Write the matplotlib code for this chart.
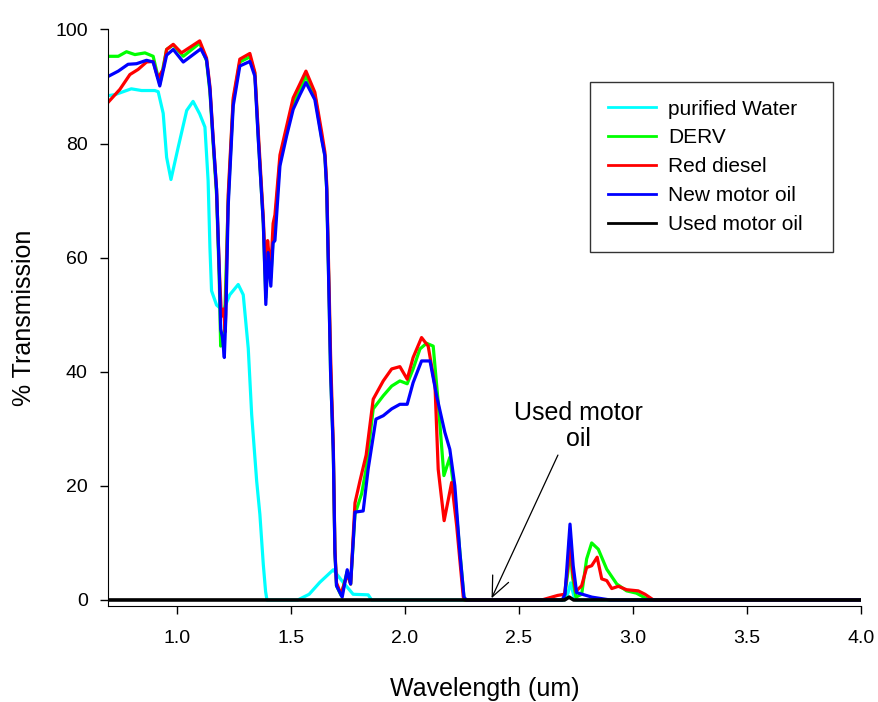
import numpy as np
import matplotlib
matplotlib.use("Agg")
import matplotlib.pyplot as plt

plt.rcParams['font.family'] = ['Liberation Sans', 'DejaVu Sans']

# purified water
water_x = [0.70, 0.73, 0.80, 0.845, 0.903, 0.918, 0.94, 0.955, 0.974, 1.006, 1.043, 1.071,
           1.10, 1.123, 1.137, 1.145, 1.152, 1.174, 1.203, 1.232, 1.269, 1.291, 1.313,
           1.328, 1.35, 1.364, 1.379, 1.389, 1.395, 1.53, 1.58, 1.627, 1.686, 1.729,
           1.773, 1.839, 1.854, 2.70, 2.715, 2.727, 2.74, 2.75, 4.0]
water_y = [88.4, 88.6, 89.6, 89.3, 89.3, 89.1, 85.3, 77.6, 73.7, 79.4, 85.8, 87.4,
           85.2, 82.9, 73.5, 61.7, 54.2, 51.7, 50.7, 53.5, 55.3, 53.5, 44.1,
           32.5, 20.8, 15.0, 6.2, 1.5, 0.0, 0.0, 1.0, 3.1, 5.3, 3.1,
           1.0, 0.9, 0.0, 0.0, 1.2, 3.0, 0.8, 0.0, 0.0]

# DERV
derv_x = [0.70, 0.743, 0.779, 0.816, 0.86, 0.896, 0.925, 0.955, 0.984, 1.028, 1.10,
          1.13, 1.145, 1.159, 1.174, 1.186, 1.192, 1.20, 1.208, 1.225, 1.247, 1.276,
          1.32, 1.342, 1.357, 1.379, 1.39, 1.40, 1.412, 1.422, 1.43, 1.452, 1.481,
          1.51, 1.54, 1.566, 1.605, 1.635, 1.649, 1.657, 1.668, 1.674, 1.686, 1.693,
          1.70, 1.72, 1.747, 1.762, 1.781, 1.81, 1.83, 1.861, 1.905, 1.942, 1.978,
          2.01, 2.036, 2.066, 2.095, 2.124, 2.146, 2.171, 2.197, 2.219, 2.26, 2.69,
          2.70, 2.715, 2.724, 2.735, 2.75, 2.775, 2.797, 2.819, 2.848, 2.885, 2.929,
          2.972, 3.015, 3.07, 4.0]
derv_y = [95.3, 95.3, 96.1, 95.6, 95.9, 95.3, 90.4, 96.5, 97.3, 95.3, 97.6,
          94.5, 89.0, 80.0, 71.0, 56.0, 44.5, 46.0, 47.0, 70.0, 87.5, 94.3,
          95.2, 92.3, 81.0, 66.0, 53.0, 61.5, 56.5, 63.5, 66.0, 77.0, 82.0,
          87.0, 89.5, 91.8, 88.5, 81.0, 78.0, 72.0, 52.0, 40.0, 26.0, 8.5,
          2.5, 0.8, 5.0, 2.8, 15.0, 18.6, 23.0, 33.5, 35.8, 37.5, 38.4,
          37.9, 40.5, 44.0, 45.0, 44.5, 34.6, 21.8, 25.0, 18.3, 0.0, 0.0,
          0.5, 5.0, 10.0, 4.0, 0.5, 1.0, 7.2, 10.0, 8.9, 5.4, 2.8,
          1.6, 1.2, 0.0, 0.0]

# Red diesel
red_x = [0.70, 0.75, 0.794, 0.83, 0.867, 0.896, 0.917, 0.94, 0.955, 0.984, 1.02, 1.10,
         1.13, 1.145, 1.159, 1.174, 1.186, 1.195, 1.20, 1.205, 1.212, 1.225, 1.247,
         1.276, 1.32, 1.342, 1.357, 1.379, 1.39, 1.398, 1.405, 1.412, 1.422, 1.43,
         1.452, 1.481, 1.51, 1.54, 1.566, 1.605, 1.635, 1.649, 1.657, 1.668, 1.674,
         1.686, 1.693, 1.70, 1.72, 1.747, 1.762, 1.781, 1.803, 1.83, 1.861, 1.905,
         1.942, 1.978, 2.01, 2.036, 2.073, 2.102, 2.132, 2.146, 2.172, 2.205, 2.227,
         2.256, 2.265, 2.60, 2.67, 2.70, 2.715, 2.724, 2.735, 2.75, 2.775, 2.797,
         2.819, 2.843, 2.863, 2.885, 2.907, 2.936, 2.972, 3.023, 3.053, 3.09, 4.0]
red_y = [87.3, 89.5, 92.1, 93.0, 94.3, 94.4, 91.5, 93.0, 96.5, 97.4, 95.9, 98.0,
         95.0, 90.0, 81.0, 72.0, 58.0, 50.0, 49.8, 51.0, 47.0, 71.0, 88.0,
         94.8, 95.8, 92.5, 82.0, 67.0, 56.0, 63.0, 60.0, 58.0, 66.0, 67.5,
         78.0, 83.0, 88.0, 90.5, 92.7, 89.0, 82.0, 78.5, 73.0, 54.0, 43.0,
         27.0, 9.0, 3.0, 1.0, 4.5, 2.8, 17.0, 20.9, 25.4, 35.2, 38.4,
         40.5, 40.9, 38.7, 42.5, 46.0, 44.5, 37.5, 22.9, 13.9, 20.6, 13.0,
         0.5, 0.0, 0.0, 0.8, 1.0, 6.0, 12.0, 5.0, 1.5, 2.5, 5.7,
         6.0, 7.5, 3.7, 3.4, 2.0, 2.4, 1.8, 1.6, 1.0, 0.0, 0.0]

# New motor oil
new_x = [0.70, 0.743, 0.786, 0.823, 0.867, 0.896, 0.925, 0.955, 0.984, 1.028, 1.105,
         1.13, 1.145, 1.159, 1.174, 1.186, 1.192, 1.20, 1.208, 1.215, 1.225, 1.247,
         1.276, 1.32, 1.342, 1.357, 1.379, 1.39, 1.40, 1.412, 1.422, 1.43, 1.452,
         1.481, 1.51, 1.54, 1.566, 1.605, 1.635, 1.649, 1.657, 1.668, 1.674, 1.686,
         1.693, 1.70, 1.725, 1.747, 1.762, 1.781, 1.817, 1.839, 1.873, 1.905, 1.942,
         1.978, 2.01, 2.036, 2.073, 2.11, 2.139, 2.175, 2.197, 2.219, 2.241, 2.259,
         2.27, 2.69, 2.702, 2.724, 2.738, 2.753, 2.82, 2.90, 4.0]
new_y = [91.8, 92.7, 93.9, 94.0, 94.6, 94.3, 90.1, 95.5, 96.5, 94.3, 96.6,
         94.7, 89.5, 80.7, 72.0, 57.4, 47.5, 46.0, 42.5, 50.0, 69.0, 86.6,
         93.6, 94.4, 91.8, 80.7, 66.1, 51.8, 60.9, 55.0, 62.6, 63.0, 76.1,
         81.3, 86.0, 88.6, 90.7, 87.7, 80.7, 77.8, 72.0, 51.5, 39.9, 25.9,
         8.3, 2.5, 0.5, 5.3, 2.8, 15.4, 15.6, 23.0, 31.7, 32.3, 33.5,
         34.3, 34.3, 38.1, 41.9, 41.9, 35.8, 29.4, 26.4, 20.0, 8.3, 0.5,
         0.0, 0.0, 1.0, 13.3, 6.0, 1.3, 0.5, 0.0, 0.0]

# Used motor oil
used_x = [0.70, 2.70, 2.72, 2.74, 4.0]
used_y = [0.0, 0.0, 0.5, 0.0, 0.0]

labels = ['purified Water', 'DERV', 'Red diesel', 'New motor oil', 'Used motor oil']
colors = ['#00FFFF', '#00FF00', '#FF0000', '#0000FF', '#000000']
xticks = [1.0, 1.5, 2.0, 2.5, 3.0, 3.5, 4.0]
yticks = [0, 20, 40, 60, 80, 100]

fig = plt.figure(figsize=(8.79, 7.02), dpi=100)
ax = fig.add_axes([0.1234, 0.1368, 0.8561, 0.8212])

series = [(water_x, water_y), (derv_x, derv_y), (red_x, red_y), (new_x, new_y), (used_x, used_y)]
for (sx, sy), lab, col in zip(series, labels, colors):
    ax.plot(sx, sy, color=col, lw=2.3 if col != '#000000' else 2.6, label=lab,
            solid_joinstyle='round')

ax.set_xlim(0.7, 4.0)
ax.set_ylim(-1.05, 100)
ax.set_xticks(xticks)
ax.set_xticklabels(['%.1f' % t for t in xticks])
ax.set_yticks(yticks)
ax.spines['top'].set_visible(False)
ax.spines['right'].set_visible(False)
ax.tick_params(direction='out', length=6, width=1, labelsize=14)
ax.tick_params(axis='x', pad=11)
ax.tick_params(axis='y', pad=9)
ax.set_xlabel('Wavelength (um)', fontsize=18, labelpad=22)
ax.set_ylabel('% Transmission', fontsize=18, labelpad=14)

leg = ax.legend(loc='upper left',
                bbox_to_anchor=(590 / 879, 1 - 250 / 702, 243 / 879, 168 / 702),
                bbox_transform=fig.transFigure, mode='expand', fontsize=15,
                frameon=True, fancybox=False, handlelength=2.3, handletextpad=0.6,
                labelspacing=0.47, borderpad=0.85, borderaxespad=0)
leg.get_frame().set_edgecolor('black')
leg.get_frame().set_linewidth(1.0)
for ln in leg.get_lines():
    ln.set_linewidth(2.0)

ax.annotate('', xy=(2.380, 0.3), xytext=(2.671, 25.4),
            arrowprops=dict(arrowstyle='->, head_length=0.8, head_width=0.35',
                            lw=0.9, color='black', shrinkA=0, shrinkB=0),
            fontsize=18)
ax.text(2.759, 30.5, 'Used motor\noil', fontsize=18, ha='center', va='center',
        linespacing=1.1)

fig.savefig('out.png', dpi=100)
